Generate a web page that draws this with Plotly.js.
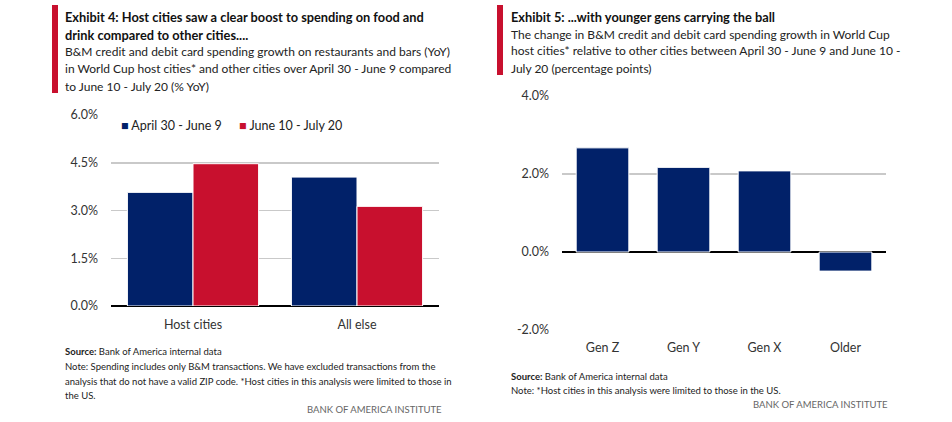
<!DOCTYPE html>
<html><head><meta charset="utf-8">
<script src="https://cdn.plot.ly/plotly-3.0.1.min.js"></script>
<style>html,body{margin:0;padding:0;background:#fff}#chart{width:952px;height:422px}</style>
</head><body><div id="chart"></div>
<script>
// ---- data ----
const leftCategories = ["Host cities", "All else"];
const seriesAprJun = [3.57, 4.05];   // April 30 - June 9
const seriesJunJul = [4.47, 3.13];   // June 10 - July 20
const leftSeriesNames = ["April 30 - June 9", "June 10 - July 20"];
const leftTickVals = [0, 1.5, 3, 4.5, 6];
const leftTickText = ["0.0%", "1.5%", "3.0%", "4.5%", "6.0%"];

const rightCategories = ["Gen Z", "Gen Y", "Gen X", "Older"];
const rightValues = [2.67, 2.17, 2.08, -0.49];
const rightTickVals = [-2, 0, 2, 4];
const rightTickText = ["-2.0%", "0.0%", "2.0%", "4.0%"];

// ---- layout helpers ----
const W = 952, H = 422;
const px = v => v / W;
const py = v => 1 - v / H;
const NAVY = "#012169", RED = "#C8102E";
const FONT = "Lato, 'Open Sans', sans-serif";

const traces = [
  {type: "bar", x: leftCategories, y: seriesAprJun, name: leftSeriesNames[0], showlegend: false,
   marker: {color: NAVY, line: {color: "#fff", width: 1}}, xaxis: "x", yaxis: "y", hoverinfo: "skip"},
  {type: "bar", x: leftCategories, y: seriesJunJul, name: leftSeriesNames[1], showlegend: false,
   marker: {color: RED, line: {color: "#fff", width: 1}}, xaxis: "x", yaxis: "y", hoverinfo: "skip"},
  {type: "bar", x: rightCategories, y: rightValues, name: "Change", showlegend: false, width: 0.65,
   marker: {color: NAVY, line: {color: "#fff", width: 1}}, xaxis: "x2", yaxis: "y2", hoverinfo: "skip"}
];

function ann(text, x, y, size, opts) {
  return Object.assign({text: text, xref: "paper", yref: "paper", x: px(x), y: py(y),
    xanchor: "left", yanchor: "middle", showarrow: false,
    font: {family: FONT, size: size, color: "#222"}}, opts || {});
}
const TB = {font: {family: FONT, size: 12.8, color: "#111"}};
const FS = 9.5;
const BA = {xanchor: "right", font: {family: FONT, size: FS, color: "#666"}};

const annotations = [
  ann("<b>Exhibit 4: Host cities saw a clear boost to spending on food and</b>", 63, 17, 12.8, TB),
  ann("<b>drink compared to other cities....</b>", 63, 35, 12.8, TB),
  ann("B&M credit and debit card spending growth on restaurants and bars (YoY)", 63, 52, 12),
  ann("in World Cup host cities* and other cities over April 30 - June 9 compared", 63, 69, 12),
  ann("to June 10 - July 20 (% YoY)", 63, 86, 12),

  ann("<b>Exhibit 5: ...with younger gens carrying the ball</b>", 509, 17, 12.8, TB),
  ann("The change in B&M credit and debit card spending growth in World Cup", 509, 34, 12),
  ann("host cities* relative to other cities between April 30 - June 9 and June 10 -", 509, 51, 12),
  ann("July 20 (percentage points)", 509, 68, 12),

  // legend (left chart)
  ann('<span style="color:' + NAVY + '">■</span> ' + leftSeriesNames[0], 119, 126, 12.5),
  ann('<span style="color:' + RED + '">■</span> ' + leftSeriesNames[1], 237, 126, 12.5),

  ann("<b>Source:</b> Bank of America internal data", 63, 351, FS),
  ann("Note: Spending includes only B&M transactions. We have excluded transactions from the", 63, 366, FS),
  ann("analysis that do not have a valid ZIP code. *Host cities in this analysis were limited to those in", 63, 381, FS),
  ann("the US.", 63, 395, FS),
  ann("BANK OF AMERICA INSTITUTE", 444, 409, FS, BA),

  ann("<b>Source:</b> Bank of America internal data", 509, 376, FS),
  ann("Note: *Host cities in this analysis were limited to those in the US.", 509, 390, FS),
  ann("BANK OF AMERICA INSTITUTE", 890, 404, FS, BA)
];

const shapes = [
  {type: "rect", xref: "paper", yref: "paper", x0: px(52), x1: px(58), y0: py(93), y1: py(5), fillcolor: RED, line: {width: 0}},
  {type: "rect", xref: "paper", yref: "paper", x0: px(497), x1: px(503), y0: py(75), y1: py(5), fillcolor: RED, line: {width: 0}}
];

const axisCommon = {showline: false, ticks: "", tickfont: {family: FONT, size: 12.5, color: "#333"}, fixedrange: true};

const layout = {
  width: W, height: H,
  margin: {l: 0, r: 0, t: 0, b: 0},
  paper_bgcolor: "#fff", plot_bgcolor: "#fff",
  barmode: "group", bargap: 0.2, bargroupgap: 0,
  showlegend: false,
  xaxis: Object.assign({}, axisCommon, {domain: [px(111), px(439)], anchor: "y", showgrid: false, ticklabelstandoff: 9}),
  yaxis: Object.assign({}, axisCommon, {domain: [py(306), py(115)], anchor: "x", range: [0, 6],
    tickmode: "array", tickvals: leftTickVals, ticktext: leftTickText, showgrid: true, gridcolor: "#c9c9c9", gridwidth: 1.5,
    zeroline: true, zerolinecolor: "#000", zerolinewidth: 1.2, ticklabelstandoff: 12}),
  xaxis2: Object.assign({}, axisCommon, {domain: [px(562), px(886)], anchor: "y2", showgrid: false, ticklabelstandoff: 8}),
  yaxis2: Object.assign({}, axisCommon, {domain: [py(330), py(96)], anchor: "x2", range: [-2, 4],
    tickmode: "array", tickvals: rightTickVals, ticktext: rightTickText, showgrid: true, gridcolor: "#c9c9c9", gridwidth: 1.5,
    zeroline: true, zerolinecolor: "#000", zerolinewidth: 1.2, ticklabelstandoff: 12}),
  annotations: annotations,
  shapes: shapes
};

Plotly.newPlot("chart", traces, layout, {staticPlot: true, displayModeBar: false});
</script>
</body></html>
